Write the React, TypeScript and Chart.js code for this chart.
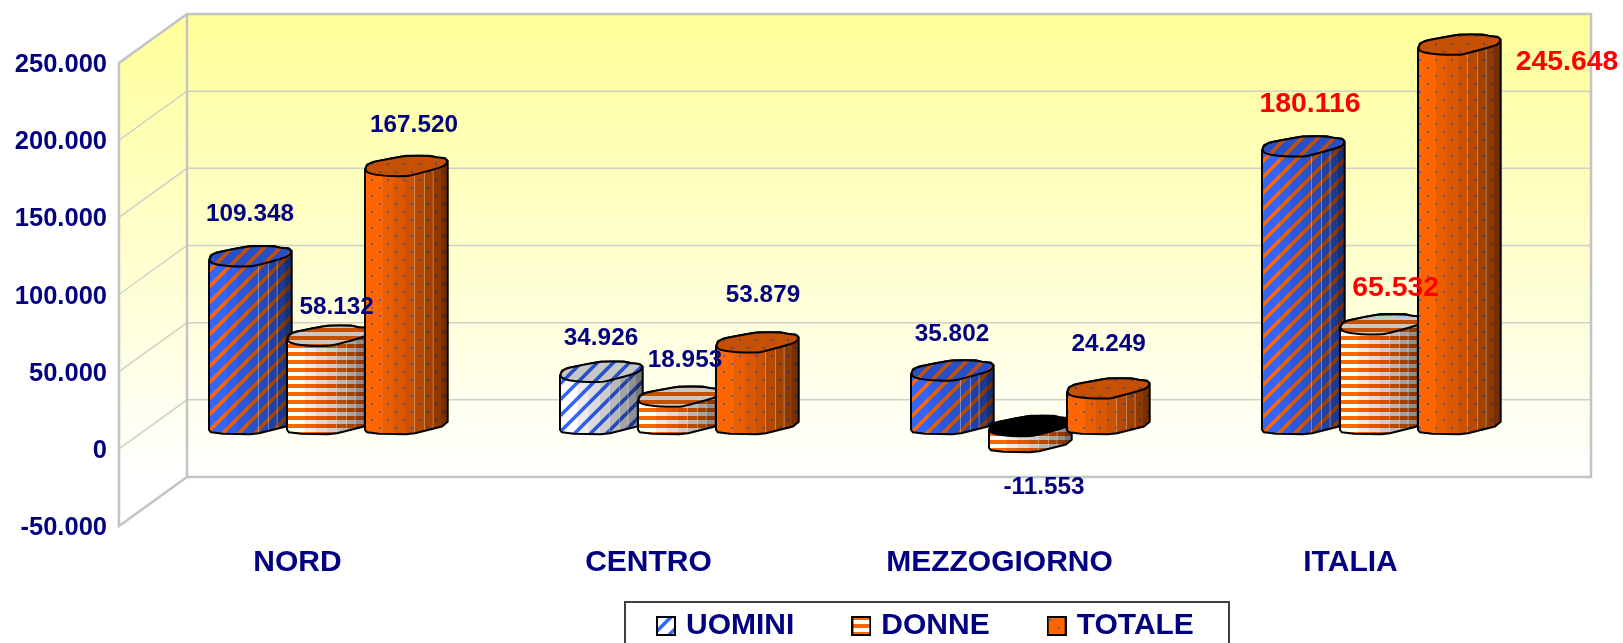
import React, { useEffect, useRef } from "react";
import { Chart, registerables } from "chart.js";

Chart.register(...registerables);

const categories = ["NORD", "CENTRO", "MEZZOGIORNO", "ITALIA"];
const uomini = [109348, 34926, 35802, 180116];
const donne = [58132, 18953, -11553, 65532];
const totale = [167520, 53879, 24249, 245648];
const seriesNames = ["UOMINI", "DONNE", "TOTALE"];

const NAVY = "#000080";
const RED = "#ff0000";
const BLUE = "#3366ff";
const ORANGE = "#ff6600";
const FONT = '"Liberation Sans", Arial, sans-serif';

// 3D projection of the box and of the column row inside it
const DEPTH_X = 68;
const DEPTH_Y = -49;
const BAR_DX = 31.5;
const BAR_DY = -19;
const BAR_K = 1.006;

// Hand placement of each value label, relative to its column (dx, dy), series by category
const labelOffsets = [
  [[33.5, -65.5], [33.5, -56.4], [33.5, -59], [40.5, -66.3]],
  [[42.2, -52.3], [39.5, -59.3], [47.5, 20.7], [48.2, -59.2]],
  [[41.5, -64.5], [39.5, -70.3], [34.1, -67.4], [141.5, -7.9]],
];

const capTop: number[][] = [
  [0, 0], [2, -5], [8, -7.7], [24.7, -11], [41.3, -14], [64.7, -14], [71.3, -12.3], [79.7, -11.7],
  [82.7, -9], [80.7, -4.3], [68, 0], [51.3, 4.3], [41.3, 6.7], [14.7, 6], [3, 3.3],
];
const bodyBottom: number[][] = [
  [0, 0], [2, 2.5], [14, 4], [41, 4.5], [50, 3.5], [77, -3.3], [82.7, -8],
];
const bandEdges = [0, 17.7, 28.7, 40, 49, 59, 67.7, 76, 83];
const bandAlpha = [0, 0.08, 0.14, 0.2, 0.28, 0.36, 0.44, 0.54];

const fmt = (v: number) => String(v).replace(/\B(?=(\d{3})+(?!\d))/g, ".");

function tile(w: number, h: number, draw: (c: CanvasRenderingContext2D) => void) {
  const cv = document.createElement("canvas");
  cv.width = w;
  cv.height = h;
  draw(cv.getContext("2d")!);
  return cv;
}

function diagonal(bg: string, fg: string) {
  return tile(16, 16, (c) => {
    c.fillStyle = bg;
    c.fillRect(0, 0, 16, 16);
    c.strokeStyle = fg;
    c.lineWidth = 3.6;
    for (const o of [-16, 0, 16]) {
      c.beginPath();
      c.moveTo(o - 4, 20);
      c.lineTo(o + 20, -4);
      c.stroke();
    }
  });
}

function horizontal(bg: string, fg: string) {
  return tile(8, 8, (c) => {
    c.fillStyle = bg;
    c.fillRect(0, 0, 8, 8);
    c.fillStyle = fg;
    c.fillRect(0, 0, 8, 4);
  });
}

function dotted(bg: string, fg: string) {
  return tile(16, 16, (c) => {
    c.fillStyle = bg;
    c.fillRect(0, 0, 16, 16);
    c.fillStyle = fg;
    c.fillRect(3, 3, 2, 2);
    c.fillRect(11, 11, 2, 2);
  });
}

function swatch(src: HTMLCanvasElement) {
  return tile(20, 20, (c) => {
    c.fillStyle = c.createPattern(src, "repeat")!;
    c.fillRect(1, 1, 18, 18);
    c.strokeStyle = "#000";
    c.lineWidth = 2;
    c.strokeRect(1, 1, 18, 18);
  });
}

function smoothClosed(ctx: CanvasRenderingContext2D, pts: number[][]) {
  const n = pts.length;
  const mid = (a: number[], b: number[]) => [(a[0] + b[0]) / 2, (a[1] + b[1]) / 2];
  const s = mid(pts[n - 1], pts[0]);
  ctx.beginPath();
  ctx.moveTo(s[0], s[1]);
  for (let i = 0; i < n; i++) {
    const m = mid(pts[i], pts[(i + 1) % n]);
    ctx.quadraticCurveTo(pts[i][0], pts[i][1], m[0], m[1]);
  }
  ctx.closePath();
}

const box3d = {
  id: "box3d",
  beforeLayout(chart: any) {
    const l = chart.legend;
    if (l && !l.__patched) {
      l.__patched = true;
      const orig = l.fit;
      l.fit = function () {
        orig.call(this);
        this.height = 0;
      };
    }
  },
  afterLayout(chart: any) {
    const l = chart.legend;
    if (l) {
      l.left = 599;
      l.right = 1300;
      l.top = 549;
      l.bottom = 643;
    }
  },
  beforeDatasetsDraw(chart: any) {
    const { ctx, chartArea: a, scales } = chart;
    const y = scales.y;
    const top = y.getPixelForValue(y.max);
    const bottom = y.getPixelForValue(y.min);
    const bl = a.left + DEPTH_X;
    const br = a.right + DEPTH_X;
    const grad = ctx.createLinearGradient(0, top + DEPTH_Y, 0, bottom + DEPTH_Y);
    grad.addColorStop(0, "#ffff99");
    grad.addColorStop(1, "#ffffff");
    ctx.save();
    ctx.fillStyle = grad;
    ctx.fillRect(bl, top + DEPTH_Y, br - bl, bottom - top);
    ctx.beginPath();
    ctx.moveTo(a.left, top);
    ctx.lineTo(bl, top + DEPTH_Y);
    ctx.lineTo(bl, bottom + DEPTH_Y);
    ctx.lineTo(a.left, bottom);
    ctx.closePath();
    ctx.fill();
    ctx.strokeStyle = "#d0d0c8";
    ctx.lineWidth = 1.5;
    for (const t of y.ticks) {
      if (t.value === y.min || t.value === y.max) continue;
      const p = y.getPixelForValue(t.value);
      ctx.beginPath();
      ctx.moveTo(a.left, p);
      ctx.lineTo(bl, p + DEPTH_Y);
      ctx.lineTo(br, p + DEPTH_Y);
      ctx.stroke();
    }
    ctx.strokeStyle = "#c4c4c4";
    ctx.lineWidth = 2.5;
    ctx.beginPath();
    ctx.moveTo(bl, bottom + DEPTH_Y);
    ctx.lineTo(bl, top + DEPTH_Y);
    ctx.lineTo(br, top + DEPTH_Y);
    ctx.lineTo(br, bottom + DEPTH_Y);
    ctx.lineTo(bl, bottom + DEPTH_Y);
    ctx.lineTo(a.left, bottom);
    ctx.lineTo(a.left, top);
    ctx.lineTo(bl, top + DEPTH_Y);
    ctx.stroke();
    ctx.restore();

    chart.data.datasets.forEach((_: any, d: number) => {
      chart.getDatasetMeta(d).data.forEach((el: any) => drawColumn(ctx, el));
    });
    return false;
  },
  afterDraw(chart: any) {
    const { ctx } = chart;
    ctx.save();
    chart.data.datasets.forEach((ds: any, d: number) => {
      chart.getDatasetMeta(d).data.forEach((el: any, i: number) => {
        const off = labelOffsets[d][i];
        const red = i === 3;
        ctx.font = `bold ${red ? 28.4 : 24.3}px ${FONT}`;
        ctx.fillStyle = red ? RED : NAVY;
        ctx.textAlign = "center";
        ctx.textBaseline = "middle";
        ctx.fillText(fmt(ds.data[i]), el.x + off[0], el.y + off[1]);
      });
    });
    ctx.strokeStyle = "#404040";
    ctx.lineWidth = 2;
    ctx.beginPath();
    ctx.moveTo(625, 643);
    ctx.lineTo(625, 602);
    ctx.lineTo(1229, 602);
    ctx.lineTo(1229, 643);
    ctx.stroke();
    ctx.restore();
  },
};

function drawColumn(ctx: CanvasRenderingContext2D, el: any) {
  const fill = el.options.backgroundColor;
  const x0 = el.x - el.width / 2 + BAR_DX;
  const base = el.base + BAR_DY;
  const end = base + (el.y - el.base) * BAR_K;
  const topY = Math.min(base, end);
  const botY = Math.max(base, end);
  const negative = el.y > el.base;

  const outline: number[][] = [];
  capTop.slice(0, 8).forEach((p) => outline.push([x0 + p[0], topY + p[1]]));
  outline.push([x0 + 82.7, topY - 9]);
  for (let i = bodyBottom.length - 1; i >= 0; i--) {
    outline.push([x0 + bodyBottom[i][0], botY + bodyBottom[i][1]]);
  }

  const trace = () => {
    ctx.beginPath();
    outline.forEach((p, i) => (i ? ctx.lineTo(p[0], p[1]) : ctx.moveTo(p[0], p[1])));
    ctx.closePath();
  };

  ctx.save();
  ctx.lineJoin = "round";
  trace();
  ctx.fillStyle = fill;
  ctx.fill();
  ctx.save();
  ctx.clip();
  bandAlpha.forEach((al, i) => {
    ctx.fillStyle = `rgba(0,0,0,${al})`;
    ctx.fillRect(x0 + bandEdges[i], topY - 20, bandEdges[i + 1] - bandEdges[i], botY - topY + 40);
  });
  ctx.strokeStyle = "rgba(255,255,255,0.35)";
  ctx.lineWidth = 1;
  [49, 59, 67.7].forEach((e) => {
    ctx.beginPath();
    ctx.moveTo(x0 + e + 0.5, topY - 20);
    ctx.lineTo(x0 + e + 0.5, botY + 20);
    ctx.stroke();
  });
  ctx.restore();
  ctx.strokeStyle = "#000";
  ctx.lineWidth = 2;
  trace();
  ctx.stroke();

  const cap = capTop.map((p) => [x0 + p[0], topY + p[1]]);
  smoothClosed(ctx, cap);
  ctx.fillStyle = negative ? "#000" : fill;
  ctx.fill();
  if (!negative) {
    ctx.fillStyle = "rgba(0,0,0,0.22)";
    ctx.fill();
  }
  ctx.stroke();
  ctx.restore();
}

export default function App() {
  const ref = useRef<HTMLCanvasElement>(null);
  useEffect(() => {
    const ctx = ref.current!.getContext("2d")!;
    const tBlue = diagonal(BLUE, ORANGE);
    const tLight = diagonal("#ffffff", BLUE);
    const tDonne = horizontal("#ffffff", ORANGE);
    const tTot = dotted(ORANGE, "#5560b0");
    const pat = (t: HTMLCanvasElement) => ctx.createPattern(t, "repeat")!;
    const pBlue = pat(tBlue);
    const pLight = pat(tLight);
    const pDonne = pat(tDonne);
    const pTot = pat(tTot);
    const swatches = [swatch(tLight), swatch(tDonne), swatch(tTot)];

    const chart = new Chart(ctx, {
      type: "bar",
      data: {
        labels: categories,
        datasets: [
          { label: seriesNames[0], data: uomini, backgroundColor: [pBlue, pLight, pBlue, pBlue] },
          { label: seriesNames[1], data: donne, backgroundColor: pDonne },
          { label: seriesNames[2], data: totale, backgroundColor: pTot },
        ],
      } as any,
      options: {
        responsive: false,
        animation: false,
        datasets: { bar: { categoryPercentage: 2 / 3, barPercentage: 1 } },
        layout: { autoPadding: false, padding: { top: 63, right: 100, left: 0, bottom: 0 } },
        scales: {
          x: {
            grid: { display: false },
            border: { display: false },
            ticks: {
              color: NAVY,
              font: { family: FONT, size: 30, weight: "bold" },
              padding: 11,
              labelOffset: 3,
              maxRotation: 0,
            },
            afterFit: (s: any) => { s.height = 117; },
          },
          y: {
            min: -50000,
            max: 250000,
            grid: { display: false, drawTicks: false },
            border: { display: false },
            ticks: {
              stepSize: 50000,
              padding: 12,
              labelOffset: 2,
              color: NAVY,
              font: { family: FONT, size: 25.5, weight: "bold" },
              callback: (v: any) => fmt(Number(v)),
            },
            afterFit: (s: any) => { s.width = 119; },
          },
        },
        plugins: {
          tooltip: { enabled: false },
          legend: {
            position: "bottom",
            align: "start",
            labels: {
              usePointStyle: true,
              pointStyleWidth: 10,
              padding: 62,
              color: NAVY,
              font: { family: FONT, size: 30, weight: "bold" },
              generateLabels: () =>
                seriesNames.map((n, i) => ({
                  text: n,
                  pointStyle: swatches[i],
                  fillStyle: "transparent",
                  strokeStyle: "transparent",
                  fontColor: NAVY,
                  datasetIndex: i,
                })),
            },
          },
        },
      } as any,
      plugins: [box3d as any],
    });
    return () => chart.destroy();
  }, []);
  return (
    <canvas
      ref={ref}
      width={1623}
      height={643}
      style={{ position: "absolute", left: 0, top: 0, display: "block" }}
    />
  );
}
